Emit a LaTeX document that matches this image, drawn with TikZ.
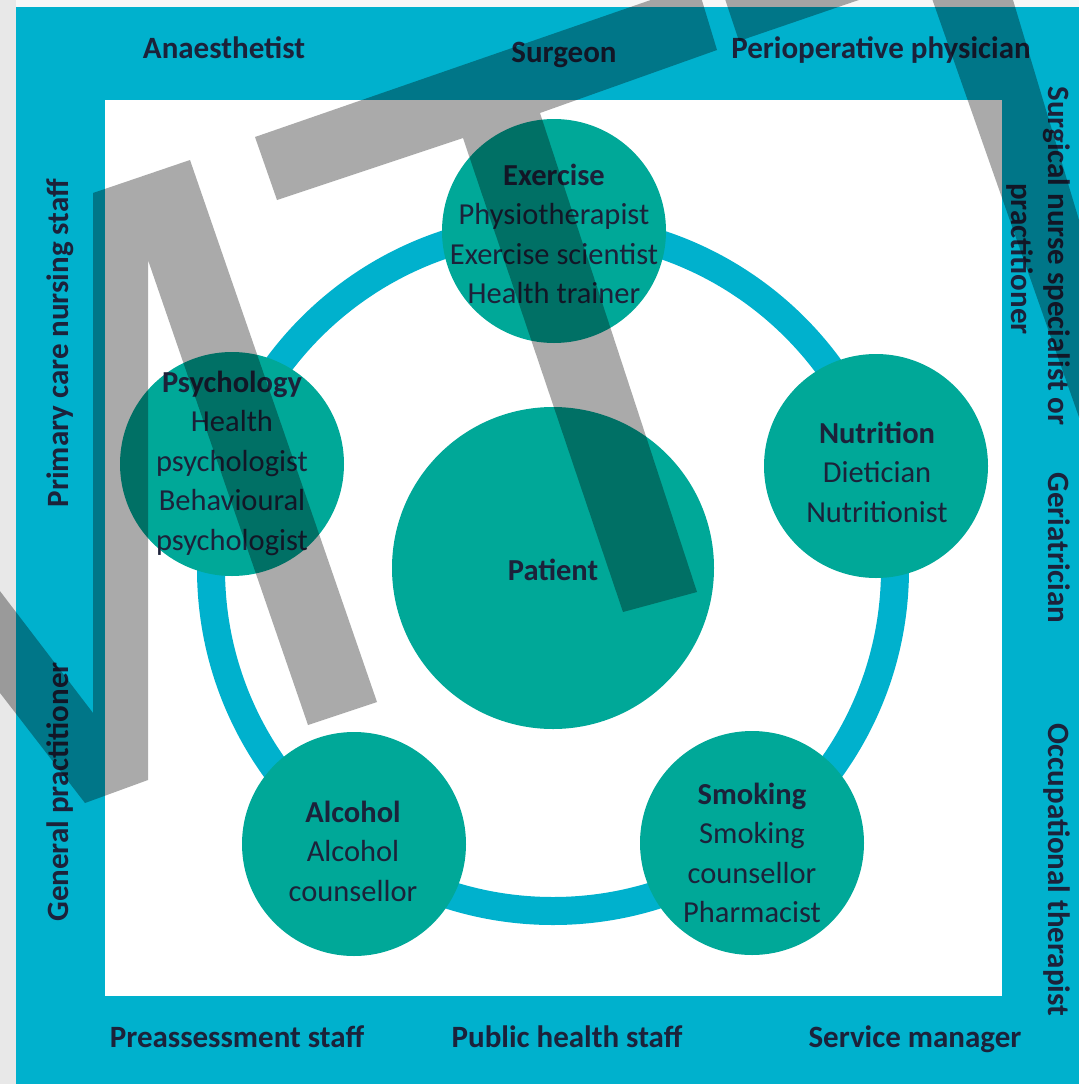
\documentclass[tikz,border=0pt]{standalone}
\usepackage{fontspec}
\setmainfont{Carlito}
\definecolor{framecol}{RGB}{0,177,205}
\definecolor{circcol}{RGB}{0,168,152}
\definecolor{inkcol}{RGB}{28,34,58}
\definecolor{wmcol}{RGB}{170,170,170}
\begin{document}
\begin{tikzpicture}[x=1pt,y=-1pt,
  role/.style={font=\fontsize{31}{37}\selectfont\bfseries, text=inkcol, inner sep=0pt, anchor=base},
  bubble/.style={circle, fill=circcol, minimum size=224pt, inner sep=0pt},
  bubtext/.style={font=\fontsize{30.5}{39.5}\selectfont, text=inkcol, align=center, inner sep=0pt},
  ring/.style={draw=framecol, line width=28pt},
  wmark/.style={fill=wmcol}
]
\useasboundingbox (0,0) rectangle (1079,1084);
\fill[white] (0,0) rectangle (1079,1084);
\fill[black!9] (0,0) rectangle (16,1084);
\fill[black!3] (16,0) rectangle (1079,7);
\fill[framecol] (16,7) rectangle (1079,1084);
\fill[white] (105,100) rectangle (1002,996);

% ring
\coordinate (C) at (553,569);
\draw[ring] (C) circle[radius=342pt];

% circles
\node[bubble, minimum size=322pt] (patient) at (553,568) {};
\node[bubble] (exercise) at (554,231) {};
\node[bubble] (nutrition) at (876,466) {};
\node[bubble] (smoking) at (752,843) {};
\node[bubble] (alcohol) at (354,844) {};
\node[bubble] (psychology) at (232,464) {};

% circle texts
\node[bubtext] (tpatient) at (553,570) {\textbf{Patient}};
\node[bubtext] (texercise) at (554,234) {\textbf{Exercise}\\Physiotherapist\\Exercise scientist\\Health trainer};
\node[bubtext] (tnutrition) at (877,472) {\textbf{Nutrition}\\Dietician\\Nutritionist};
\node[bubtext] (tsmoking) at (752,853) {\textbf{Smoking}\\Smoking\\counsellor\\Pharmacist};
\node[bubtext] (talcohol) at (353,851) {\textbf{Alcohol}\\Alcohol\\counsellor};
\node[bubtext] (tpsychology) at (232,463) {\textbf{Psychology}\\Health\\psychologist\\Behavioural\\psychologist};

% frame labels
\node[role] (anaest) at (224,58) {Anaesthetist};
\node[role] (surgeon) at (564,62) {Surgeon};
\node[role] (periop) at (881,58) {Perioperative physician};
\node[role] (preass) at (237,1047) {Preassessment staff};
\node[role] (pubhealth) at (567,1047) {Public health staff};
\node[role] (service) at (915,1047) {Service manager};
\node[role, rotate=90] (primary) at (68,343) {Primary care nursing staff};
\node[role, rotate=90] (gp) at (68,792) {General practitioner};
\node[role, rotate=-90] (surgnurse) at (1048,256) {Surgical nurse specialist or};
\node[role, rotate=-90] (practit) at (1011,259) {practitioner};
\node[role, rotate=-90] (geriat) at (1048,548) {Geriatrician};
\node[role, rotate=-90] (occup) at (1048,870) {Occupational therapist};

% watermark
\begin{scope}[blend mode=multiply]
\clip (0,0) rectangle (1079,1084);
\fill[wmark] (93,193) -- (190,160) -- (377,702) -- (308,725) -- (148,260) -- (148,780) -- (85,803) -- (-10,680) -- (-10,578) -- (93,713) -- cycle;
\fill[wmark] (255,137) -- (697,-16) -- (717,50) -- (540,113) -- (697,592) -- (623,612) -- (463,138) -- (277,200) -- cycle;
\fill[wmark] (929,-10) -- (1010,-10) -- (1100,290) -- (1100,477) -- cycle;
\fill[wmark] (722,-10) -- (739,41) -- (888,-10) -- cycle;
\end{scope}
\end{tikzpicture}
\end{document}
